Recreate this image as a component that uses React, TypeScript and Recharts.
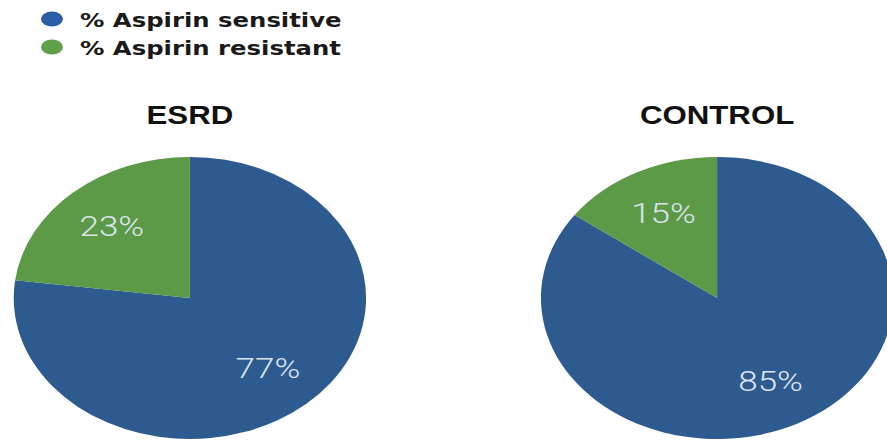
import React from "react";
import { PieChart, Pie, Cell } from "recharts";

const categories = ["% Aspirin sensitive", "% Aspirin resistant"];
const esrdValues = [77, 23];
const controlValues = [85, 15];
const groupTitles = ["ESRD", "CONTROL"];
const colors = ["#2d5a8f", "#5c9a47"];
const legendColors = ["#2b5ea6", "#5fa04a"];

const esrdData = categories.map((name, i) => ({ name, value: esrdValues[i] }));
const controlData = categories.map((name, i) => ({ name, value: controlValues[i] }));

const W = 710;
const H = 444;
const SX = 887 / W;
const R = 141;
const CY = 298;
const CX1 = 152;
const CX2 = 574;

const RAD = Math.PI / 180;
const renderLabel = (p: any) => {
  const r = p.outerRadius * 0.67;
  const x = p.cx + r * Math.cos(-p.midAngle * RAD);
  const y = p.cy + r * Math.sin(-p.midAngle * RAD);
  return (
    <text
      x={x}
      y={y}
      fill="#dde4ee"
      textAnchor="middle"
      dominantBaseline="central"
      fontFamily="Roboto, 'Liberation Sans', sans-serif"
      fontWeight={300}
      fontSize={28}
    >
      {`${p.value}%`}
    </text>
  );
};

export default function App() {
  return (
    <div
      style={{
        position: "absolute",
        left: 0,
        top: 0,
        width: W,
        height: H,
        transform: `scaleX(${SX})`,
        transformOrigin: "0 0",
        background: "#fff",
      }}
    >
      <PieChart width={W} height={H} margin={{ top: 0, right: 0, bottom: 0, left: 0 }}>
        <Pie
          data={esrdData}
          dataKey="value"
          cx={CX1}
          cy={CY}
          outerRadius={R}
          startAngle={90}
          endAngle={-270}
          stroke="none"
          label={renderLabel}
          labelLine={false}
          isAnimationActive={false}
        >
          {esrdData.map((d, i) => (
            <Cell key={d.name} fill={colors[i]} />
          ))}
        </Pie>
        <Pie
          data={controlData}
          dataKey="value"
          cx={CX2}
          cy={CY}
          outerRadius={R}
          startAngle={90}
          endAngle={-270}
          stroke="none"
          label={renderLabel}
          labelLine={false}
          isAnimationActive={false}
        >
          {controlData.map((d, i) => (
            <Cell key={d.name} fill={colors[i]} />
          ))}
        </Pie>
      </PieChart>
      <svg
        width={W}
        height={H}
        style={{ position: "absolute", left: 0, top: 0, pointerEvents: "none" }}
      >
        {groupTitles.map((t, i) => (
          <text
            key={t}
            x={i === 0 ? CX1 : CX2}
            y={124}
            textAnchor="middle"
            fontFamily="'Liberation Sans', Arial, sans-serif"
            fontWeight="bold"
            fontSize={25}
            fill="#111"
          >
            {t}
          </text>
        ))}
        {categories.map((c, i) => (
          <g key={c}>
            <ellipse cx={41.6} cy={19 + i * 28} rx={8.8} ry={7.5} fill={legendColors[i]} />
            <text
              x={64}
              y={27 + i * 28}
              fontFamily="'DejaVu Sans', 'Liberation Sans', sans-serif"
              fontWeight="bold"
              fontSize={19.5}
              fill="#1a1a1a"
            >
              {c}
            </text>
          </g>
        ))}
      </svg>
    </div>
  );
}
